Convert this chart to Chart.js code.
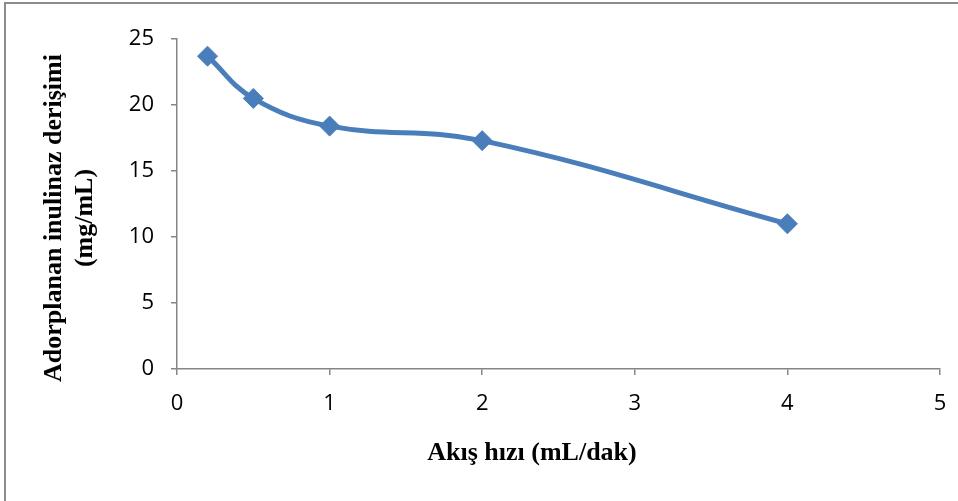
<!DOCTYPE html>
<html>
<head>
<meta charset="utf-8">
<script src="https://cdn.jsdelivr.net/npm/chart.js@4/dist/chart.umd.min.js"></script>
<style>
  html, body { margin: 0; padding: 0; background: #fff; }
  #wrap { width: 958px; height: 501px; position: relative; }
</style>
</head>
<body>
<div id="wrap"><canvas id="c"></canvas></div>
<script>
const flowRates = [0.2, 0.5, 1, 2, 4];
const adsorbed = [23.7, 20.5, 18.4, 17.3, 11.0];
const xTitle = 'Akış hızı (mL/dak)';
const yTitleLines = ['Adorplanan inulinaz derişimi', '(mg/mL)'];

const axisGray = '#868686';
const lineBlue = '#4A7EBB';

// outer frame + axis titles drawn by hand so they can sit off-centre like the original
const decorations = {
  id: 'decorations',
  afterDraw(chart) {
    const ctx = chart.ctx;
    const area = chart.chartArea;
    ctx.save();
    ctx.strokeStyle = '#8c8c8c';
    ctx.lineWidth = 2;
    ctx.beginPath();
    ctx.moveTo(5, 501);
    ctx.lineTo(5, 3);
    ctx.lineTo(958, 3);
    ctx.stroke();

    ctx.fillStyle = '#000';
    ctx.font = 'bold 26px "Liberation Serif", "Times New Roman", serif';
    ctx.textAlign = 'center';
    ctx.textBaseline = 'middle';
    ctx.fillText(xTitle, area.left + 355, area.bottom + 84);

    ctx.translate(area.left - 107, area.top + 179);
    ctx.rotate(-Math.PI / 2);
    ctx.fillText(yTitleLines[0], 0, -16);
    ctx.fillText(yTitleLines[1], 0, 15);
    ctx.restore();
  }
};

new Chart(document.getElementById('c'), {
  type: 'scatter',
  plugins: [decorations],
  data: {
    datasets: [{
      data: flowRates.map((x, i) => ({ x, y: adsorbed[i] })),
      showLine: true,
      tension: 0.4,
      borderColor: lineBlue,
      backgroundColor: lineBlue,
      borderWidth: 5,
      pointStyle: 'rectRot',
      pointRadius: 10,
      pointBorderWidth: 1,
      pointBorderColor: lineBlue,
    }]
  },
  options: {
    responsive: true,
    maintainAspectRatio: false,
    animation: false,
    layout: {
      padding: { top: 39, right: 0, left: 0, bottom: 0 }
    },
    scales: {
      x: {
        type: 'linear',
        min: 0,
        max: 5,
        afterFit: (scale) => {
          scale.height = 132;
          // the "5" label may hang past the plot edge, keep the axis long
          scale.paddingRight = 18;
        },
        ticks: {
          stepSize: 1,
          color: '#000',
          padding: 16,
          font: { family: '"Open Sans", sans-serif', size: 22 },
        },
        grid: { drawOnChartArea: false, drawTicks: true, tickLength: 6, color: axisGray, lineWidth: 1.5 },
        border: { color: axisGray, width: 1.5 },
      },
      y: {
        min: 0,
        max: 25,
        afterFit: (scale) => { scale.width = 177; },
        ticks: {
          stepSize: 5,
          color: '#000',
          padding: 17,
          font: { family: '"Open Sans", sans-serif', size: 22 },
        },
        grid: { drawOnChartArea: false, drawTicks: true, tickLength: 6, color: axisGray, lineWidth: 1.5 },
        border: { color: axisGray, width: 1.5 },
      },
    },
    plugins: {
      legend: { display: false },
      tooltip: { enabled: false },
    },
  },
});
</script>
</body>
</html>
